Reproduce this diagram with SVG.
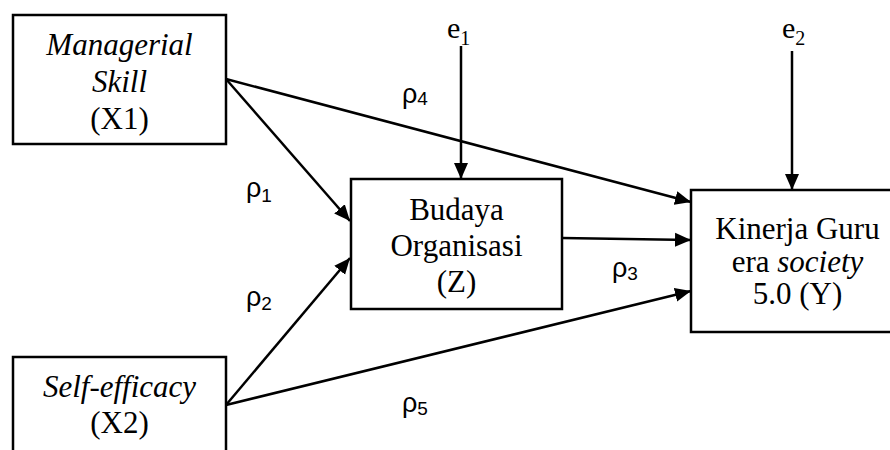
<svg xmlns="http://www.w3.org/2000/svg" width="890" height="450" viewBox="0 0 890 450">
<defs>
<marker id="ah" markerUnits="userSpaceOnUse" markerWidth="16" markerHeight="16" viewBox="0 0 16 16" refX="16" refY="8" orient="auto">
<path d="M0,1 L16,8 L0,15 Z" fill="#000"/>
</marker>
<style>
.box{fill:#fff;stroke:#000;stroke-width:2.5}
.t{font-family:"Liberation Serif","Times New Roman",serif;font-size:31px;fill:#000;text-anchor:middle}
.i{font-style:italic}
.e{font-family:"Liberation Serif","Times New Roman",serif;font-size:30px;fill:#000}
.r{font-family:"Liberation Sans",Arial,sans-serif;font-size:27px;fill:#000}
.c{fill:none;stroke:#000;stroke-width:2.5;marker-end:url(#ah)}
</style>
</defs>
<rect width="890" height="450" fill="#fff"/>
<g id="connectors">
<path class="c" d="M226,79 L350,221"/>
<path class="c" d="M226,79 L691,202"/>
<path class="c" d="M226,405 L350,258"/>
<path class="c" d="M226,405 L691,291"/>
<path class="c" d="M562,238 L691,240"/>
<path class="c" d="M461,46 L461,179"/>
<path class="c" d="M792,51 L792,190"/>
</g>
<g id="x1">
<rect class="box" x="13" y="15" width="213" height="129"/>
<text class="t i" x="119.5" y="55">Managerial</text>
<text class="t i" x="119.5" y="92">Skill</text>
<text class="t" x="119.5" y="129">(X1)</text>
</g>
<g id="x2">
<rect class="box" x="13" y="357" width="213" height="129"/>
<text class="t i" x="119.5" y="397">Self-efficacy</text>
<text class="t" x="119.5" y="433">(X2)</text>
</g>
<g id="z">
<rect class="box" x="351" y="179" width="211" height="130"/>
<text class="t" x="456.5" y="220">Budaya</text>
<text class="t" x="456.5" y="256">Organisasi</text>
<text class="t" x="456.5" y="292">(Z)</text>
</g>
<g id="y">
<rect class="box" x="691" y="190" width="213" height="142"/>
<text class="t" x="797.5" y="239">Kinerja Guru</text>
<text class="t" x="797.5" y="272">era <tspan class="i">society</tspan></text>
<text class="t" x="797.5" y="304">5.0 (Y)</text>
</g>
<g id="e1">
<text class="e" x="447" y="38">e<tspan font-size="20" dy="7">1</tspan></text>
</g>
<g id="e2">
<text class="e" x="782" y="38">e<tspan font-size="20" dy="7">2</tspan></text>
</g>
<g id="labels">
<text class="r" x="246" y="197">ρ<tspan font-size="19" dy="5">1</tspan></text>
<text class="r" x="246" y="306">ρ<tspan font-size="19" dy="4">2</tspan></text>
<text class="r" x="612" y="277">ρ<tspan font-size="19" dy="3">3</tspan></text>
<text class="r" x="402" y="103">ρ<tspan font-size="19" dy="2">4</tspan></text>
<text class="r" x="402" y="412">ρ<tspan font-size="19" dy="3">5</tspan></text>
</g>
</svg>
